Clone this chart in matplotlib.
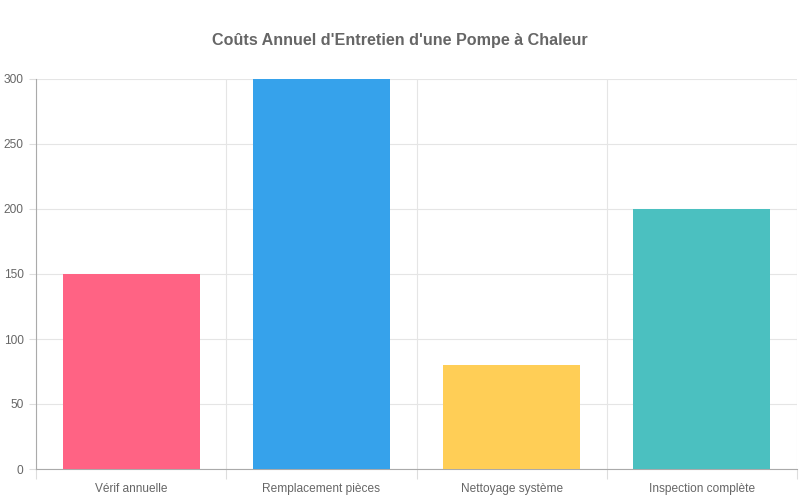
import matplotlib.pyplot as plt
import numpy as np

categories = ['Vérif annuelle', 'Remplacement pièces', 'Nettoyage système', 'Inspection complète']
costs = [150, 300, 80, 200]
colors = ['#FF6384', '#36A2EB', '#FFCE56', '#4BC0C0']

plt.rcParams['font.family'] = ['Liberation Sans', 'DejaVu Sans']

fig = plt.figure(figsize=(8, 5), dpi=100)
ax = fig.add_axes([36 / 800, 31 / 500, 761 / 800, 390 / 500])

x = np.arange(len(categories))
ax.bar(x, costs, width=0.72, color=colors, zorder=3)

ax.set_xlim(-0.5, len(categories) - 0.5)
ax.set_ylim(0, 300)
ax.set_yticks(np.arange(0, 301, 50))
ax.set_xticks(x)
ax.set_xticklabels(categories)
ax.set_xticks(np.arange(-0.5, len(categories)), minor=True)

ax.tick_params(axis='x', which='major', length=0, pad=10, labelsize=8.6, labelcolor='#666666')
ax.tick_params(axis='x', which='minor', length=7, width=0.8, color='#dddddd')
ax.tick_params(axis='y', length=5, width=0.8, color='#dddddd', pad=4, labelsize=8.6, labelcolor='#666666')

ax.grid(True, axis='y', color='#e5e5e5', linewidth=0.8, zorder=0)
ax.grid(True, axis='x', which='minor', color='#e5e5e5', linewidth=0.8, zorder=0)

for side in ['top', 'right']:
    ax.spines[side].set_visible(False)
for side in ['left', 'bottom']:
    ax.spines[side].set_color('#aaaaaa')
    ax.spines[side].set_linewidth(0.8)

fig.text(0.5, 1 - 40 / 500, "Coûts Annuel d'Entretien d'une Pompe à Chaleur",
         ha='center', va='center', fontsize=11.6, fontweight='bold', color='#666666')

fig.savefig('out.png', dpi=100)
